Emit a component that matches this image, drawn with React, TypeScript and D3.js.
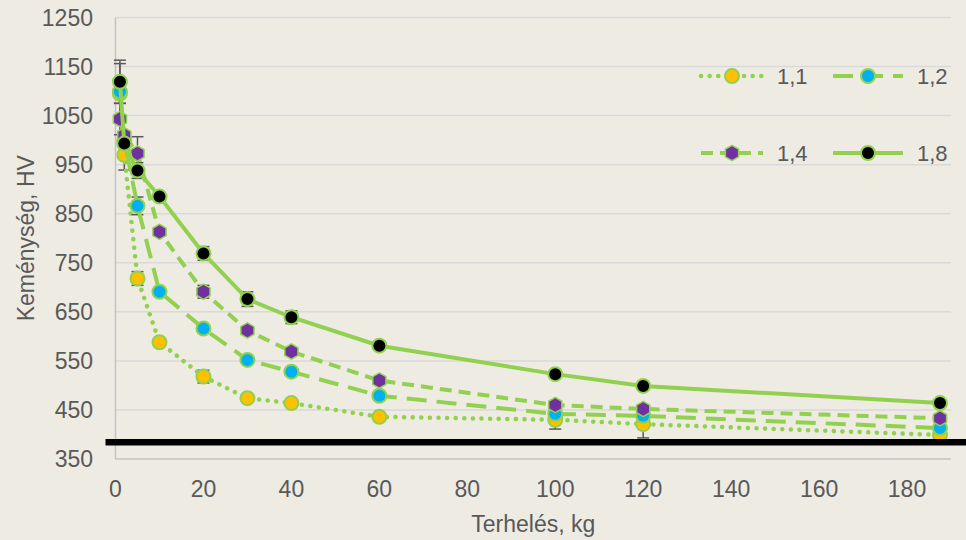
import React, { useEffect, useRef } from "react";
import * as d3 from "d3";

// Terhelés (kg)
const loads = [1, 2, 5, 10, 20, 30, 40, 60, 100, 120, 187.5];

const seriesNames = ["1,1", "1,2", "1,4", "1,8"];

const hv11 = [1095, 970, 718, 588, 518, 474, 464, 436, 430, 421, 399];
const hv12 = [1099, 1000, 866, 691, 616, 552, 528, 479, 442, 438, 413];
const hv14 = [1043, 1010, 973, 813, 691, 612, 569, 510, 460, 452, 433];
const hv18 = [1119, 993, 938, 885, 769, 676, 639, 581, 523, 499, 464];

// hibasávok (0 = nincs)
const err11 = [0, 31, 14, 0, 13, 0, 0, 0, 19, 28, 0];
const err12 = [57, 0, 18, 0, 0, 0, 0, 0, 0, 0, 0];
const err14 = [32, 0, 34, 0, 13, 0, 0, 0, 0, 0, 0];
const err18 = [44, 0, 16, 0, 14, 15, 13, 0, 0, 0, 0];

const yTicks = [350, 450, 550, 650, 750, 850, 950, 1050, 1150, 1250];
const xTicks = [0, 20, 40, 60, 80, 100, 120, 140, 160, 180];

const baselineValue = 384;

const App = () => {
  const svgRef = useRef<SVGSVGElement>(null);

  useEffect(() => {
    document.body.style.margin = "0";
    const W = 966, H = 540;
    const svg = d3.select(svgRef.current);
    svg.selectAll("*").remove();
    svg.attr("width", W).attr("height", H);

    const font = "'Liberation Sans', Arial, sans-serif";
    const textColor = "#595959";
    const green = "#92D050";

    svg.append("rect").attr("width", W).attr("height", H).attr("fill", "#EEEBE3");

    const left = 115.5, right = 951, top = 17.5, bottom = 459;
    const x = d3.scaleLinear().domain([0, 190]).range([left, right]);
    const y = d3.scaleLinear().domain([350, 1250]).range([bottom, top]);

    // rácsvonalak
    svg.append("g")
      .selectAll("line")
      .data(yTicks)
      .enter()
      .append("line")
      .attr("x1", left)
      .attr("x2", right)
      .attr("y1", d => y(d))
      .attr("y2", d => y(d))
      .attr("stroke", d => (d === 350 ? "#c3c3c3" : "#d9d9d9"))
      .attr("stroke-width", 1.5);

    svg.append("line")
      .attr("x1", left).attr("x2", left)
      .attr("y1", top).attr("y2", bottom)
      .attr("stroke", "#c3c3c3").attr("stroke-width", 1.5);

    // tengelyfeliratok
    svg.append("g")
      .selectAll("text")
      .data(yTicks)
      .enter()
      .append("text")
      .attr("x", 93)
      .attr("y", d => y(d))
      .attr("dy", "0.36em")
      .attr("text-anchor", "end")
      .attr("font-family", font)
      .attr("font-size", 23)
      .attr("fill", textColor)
      .text(d => d);

    svg.append("g")
      .selectAll("text")
      .data(xTicks)
      .enter()
      .append("text")
      .attr("x", d => x(d))
      .attr("y", 497)
      .attr("text-anchor", "middle")
      .attr("font-family", font)
      .attr("font-size", 23)
      .attr("fill", textColor)
      .text(d => d);

    svg.append("text")
      .attr("x", (left + right) / 2)
      .attr("y", 532)
      .attr("text-anchor", "middle")
      .attr("font-family", font)
      .attr("font-size", 23)
      .attr("fill", textColor)
      .text("Terhelés, kg");

    svg.append("text")
      .attr("transform", `translate(34,${(top + bottom) / 2}) rotate(-90)`)
      .attr("text-anchor", "middle")
      .attr("font-family", font)
      .attr("font-size", 23)
      .attr("fill", textColor)
      .text("Keménység, HV");

    const hexagon = (r: number) => {
      const pts = d3.range(6).map(i => {
        const a = -Math.PI / 2 + (i * Math.PI) / 3;
        return [r * Math.cos(a), r * Math.sin(a)];
      });
      return "M" + pts.map(p => p.join(",")).join("L") + "Z";
    };

    const series = [
      { name: seriesNames[0], values: hv11, errs: err11, fill: "#FFC000", dash: "0.1 8.5", cap: "round", shape: "circle" },
      { name: seriesNames[1], values: hv12, errs: err12, fill: "#00B0F0", dash: "20 10", cap: "butt", shape: "circle" },
      { name: seriesNames[2], values: hv14, errs: err14, fill: "#7030A0", dash: "12 7", cap: "butt", shape: "hex" },
      { name: seriesNames[3], values: hv18, errs: err18, fill: "#000000", dash: null, cap: "butt", shape: "circle" },
    ];

    const line = d3.line<number>()
      .x((d, i) => x(loads[i]))
      .y(d => y(d));

    const drawMarker = (g: any, s: any, cx: number, cy: number) => {
      if (s.shape === "hex") {
        g.append("path")
          .attr("d", hexagon(7.6))
          .attr("transform", `translate(${cx},${cy})`)
          .attr("fill", s.fill)
          .attr("stroke", green)
          .attr("stroke-width", 1.5)
          .attr("stroke-linejoin", "round");
      } else {
        g.append("circle")
          .attr("cx", cx)
          .attr("cy", cy)
          .attr("r", 7)
          .attr("fill", s.fill)
          .attr("stroke", green)
          .attr("stroke-width", 2);
      }
    };

    series.forEach(s => {
      const g = svg.append("g");

      // hibasávok
      s.values.forEach((v, i) => {
        const e = s.errs[i];
        if (!e) return;
        const cx = x(loads[i]);
        g.append("line")
          .attr("x1", cx).attr("x2", cx)
          .attr("y1", y(v - e)).attr("y2", y(v + e))
          .attr("stroke", "#595959").attr("stroke-width", 1.5);
        [v - e, v + e].forEach(ev => {
          g.append("line")
            .attr("x1", cx - 6).attr("x2", cx + 6)
            .attr("y1", y(ev)).attr("y2", y(ev))
            .attr("stroke", "#595959").attr("stroke-width", 1.5);
        });
      });

      g.append("path")
        .datum(s.values)
        .attr("d", line)
        .attr("fill", "none")
        .attr("stroke", green)
        .attr("stroke-width", s.cap === "round" ? 4.5 : 4)
        .attr("stroke-linecap", s.cap)
        .attr("stroke-dasharray", s.dash);

      s.values.forEach((v, i) => drawMarker(g, s, x(loads[i]), y(v)));
    });

    // vastag fekete vonal
    svg.append("line")
      .attr("x1", left - 10)
      .attr("x2", W)
      .attr("y1", y(baselineValue))
      .attr("y2", y(baselineValue))
      .attr("stroke", "#000")
      .attr("stroke-width", 6.5);

    // jelmagyarázat
    const legendPos = [
      { x0: 701, x1: 763, y: 76 },
      { x0: 833, x1: 903, y: 76 },
      { x0: 701, x1: 763, y: 153 },
      { x0: 833, x1: 903, y: 153 },
    ];
    series.forEach((s, i) => {
      const p = legendPos[i];
      const g = svg.append("g");
      g.append("line")
        .attr("x1", p.x0).attr("x2", p.x1)
        .attr("y1", p.y).attr("y2", p.y)
        .attr("stroke", green)
        .attr("stroke-width", s.cap === "round" ? 4.5 : 4)
        .attr("stroke-linecap", s.cap)
        .attr("stroke-dasharray", s.dash);
      drawMarker(g, s, (p.x0 + p.x1) / 2, p.y);
      g.append("text")
        .attr("x", p.x1 + 14)
        .attr("y", p.y)
        .attr("dy", "0.36em")
        .attr("font-family", font)
        .attr("font-size", 22)
        .attr("fill", textColor)
        .text(s.name);
    });
  }, []);

  return <svg ref={svgRef}></svg>;
};

export default App;
